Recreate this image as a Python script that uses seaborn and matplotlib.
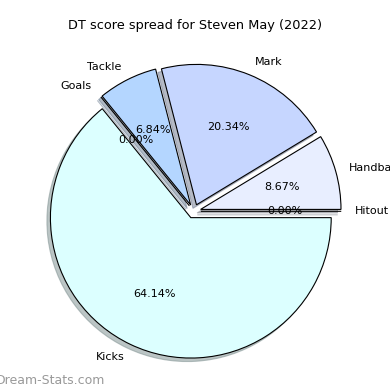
import matplotlib
matplotlib.use("Agg")
import matplotlib.pyplot as plt
import seaborn as sns

sns.set_style("white")
plt.rcParams["text.color"] = "black"

labels = ["Hitout", "Handball", "Mark", "Tackle", "Goals", "Kicks"]
values = [0.000, 8.674, 20.344, 6.844, 0.000, 64.138]
colors = ["#E8EEFF", "#E8EEFF", "#C6D6FF", "#B4D6FF", "#B4D6FF", "#DCFFFF"]
explode = [0.05, 0.05, 0.05, 0.05, 0.05, 0.05]
title = "DT score spread for Steven May (2022)"
watermark = "Dream-Stats.com"

fig = plt.figure(figsize=(3.9, 3.9), dpi=100)
ax = fig.add_axes([0.047, 0.0082, 0.9, 0.9])
ax.pie(values, labels=labels, colors=colors, explode=explode,
       autopct="%1.2f%%", shadow={"ox": -0.018, "oy": -0.018, "shade": 0.45},
       startangle=0,
       wedgeprops=dict(edgecolor="black", linewidth=0.8),
       textprops=dict(fontsize=8, color="black"))
ax.set_xlim(-1.25, 1.25)
ax.set_ylim(-1.25, 1.25)
ax.set_aspect("equal")
fig.text(0.5, 1 - 25 / 390, title, ha="center", va="center", fontsize=9.3,
         color="black")
fig.text(-0.012, 1 - 380 / 390, watermark, ha="left", va="center",
         fontsize=9, color="#999999")
fig.savefig("out.png", dpi=100)
